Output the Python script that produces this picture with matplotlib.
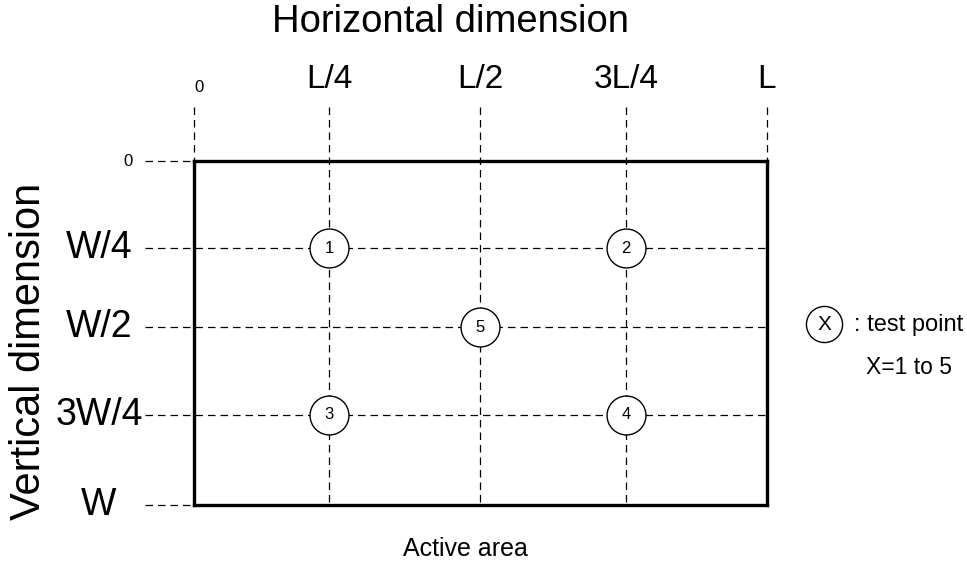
import matplotlib
matplotlib.use('Agg')
import matplotlib.pyplot as plt

plt.rcParams['font.family'] = ['Liberation Sans', 'DejaVu Sans']

# grid positions (fraction of L and W) and labels
x_pos = [0, 0.236, 0.499, 0.754, 1]
x_labels = ['0', 'L/4', 'L/2', '3L/4', 'L']
y_pos = [0, 0.253, 0.483, 0.738, 1]
y_labels = ['0', 'W/4', 'W/2', '3W/4', 'W']

# test points (index into the grid positions)
point_ids = ['1', '2', '3', '4', '5']
point_col = [1, 3, 1, 3, 2]
point_row = [1, 1, 3, 3, 2]


def main():
    W_px, H_px = 967, 565
    fig = plt.figure(figsize=(W_px / 100, H_px / 100), dpi=100)
    # rectangle occupies pixels x 194..767, y 161..505
    left, right, top, bottom = 194, 767, 161, 505
    ax = fig.add_axes([left / W_px, 1 - bottom / H_px,
                       (right - left) / W_px, (bottom - top) / H_px])
    ax.set_xlim(0, 1)
    ax.set_ylim(1, 0)
    ax.set_xticks([])
    ax.set_yticks([])
    for s in ax.spines.values():
        s.set_linewidth(2.4)
        s.set_zorder(5)

    def fx(px):
        return (px - left) / (right - left)

    def fy(py):
        return (py - top) / (bottom - top)

    dash = dict(color='black', lw=0.9, ls=(0, (6, 4)), clip_on=False, zorder=1)
    for xv in x_pos:
        ax.plot([xv, xv], [fy(107), 1], **dash)
    for yv in y_pos:
        ax.plot([fx(145), 1], [yv, yv], **dash)

    # tick labels
    for xv, lab in zip(x_pos, x_labels):
        if lab == '0':
            ax.text(xv + fx(199) - fx(194), fy(87), lab, ha='center', va='center',
                    fontsize=12)
        else:
            ax.text(xv, fy(80), lab, ha='center', va='center', fontsize=24)
    for yv, lab in zip(y_pos, y_labels):
        if lab == '0':
            ax.text(fx(128), yv, lab, ha='center', va='center', fontsize=12)
        else:
            ax.text(fx(99), yv, lab, ha='center', va='center', fontsize=27)

    # test points
    px = [x_pos[c] for c in point_col]
    py = [y_pos[r] for r in point_row]
    ax.plot(px, py, 'o', ms=28, mfc='white', mec='black', mew=1.0,
            ls='none', zorder=3)
    for x, y, pid in zip(px, py, point_ids):
        ax.text(x, y, pid, ha='center', va='center', fontsize=12, zorder=4)

    # titles
    fig.text(450 / W_px, 1 - 22 / H_px, 'Horizontal dimension', ha='center',
             va='center', fontsize=27.5)
    fig.text(29 / W_px, 1 - 351 / H_px, 'Vertical dimension', ha='center',
             va='center', fontsize=30, rotation=90)
    fig.text(465 / W_px, 1 - 549 / H_px, 'Active area', ha='center',
             va='center', fontsize=18)

    # legend
    fig.lines.append(plt.Line2D([824 / W_px], [1 - 324 / H_px], marker='o', ms=26,
                                mfc='white', mec='black', mew=1.0, ls='none',
                                transform=fig.transFigure))
    fig.text(824 / W_px, 1 - 325 / H_px, 'X', ha='center', va='center', fontsize=15)
    fig.text(854 / W_px, 1 - 325 / H_px, ': test point', ha='left', va='center',
             fontsize=17)
    fig.text(866 / W_px, 1 - 367 / H_px, 'X=1 to 5', ha='left', va='center',
             fontsize=16.5)

    fig.savefig('out.png', dpi=100, facecolor='white')


if __name__ == '__main__':
    main()
